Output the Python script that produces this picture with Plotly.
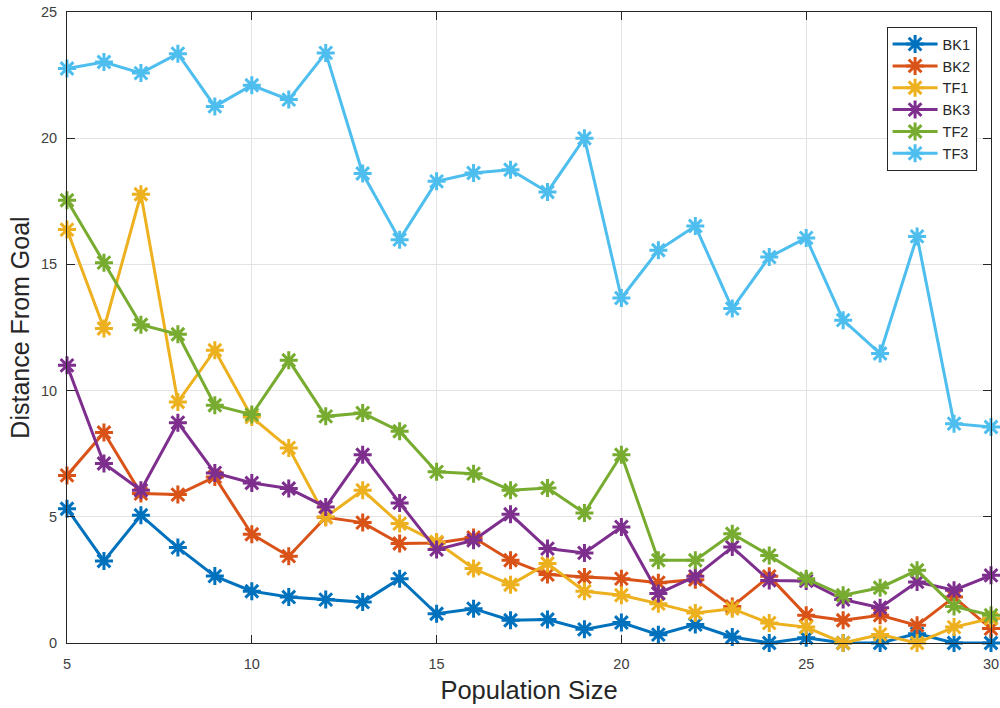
import plotly.graph_objects as go

# Population sizes on the x axis
population = list(range(5, 31))

bk1 = [5.32, 3.25, 5.06, 3.78, 2.65, 2.05, 1.82, 1.72, 1.62, 2.55, 1.16, 1.36, 0.90,
       0.93, 0.54, 0.81, 0.33, 0.73, 0.24, 0.0, 0.21, 0.0, 0.0, 0.37, 0.0, 0.0]
bk2 = [6.64, 8.34, 5.92, 5.88, 6.58, 4.31, 3.44, 4.98, 4.77, 3.94, 3.96, 4.18, 3.28,
       2.71, 2.61, 2.55, 2.39, 2.51, 1.45, 2.64, 1.10, 0.90, 1.10, 0.70, 1.82, 0.57]
tf1 = [16.38, 12.46, 17.78, 9.55, 11.60, 8.95, 7.73, 4.99, 6.05, 4.73, 4.00, 2.95, 2.31,
       3.15, 2.05, 1.89, 1.56, 1.19, 1.36, 0.79, 0.63, 0.0, 0.34, 0.0, 0.63, 0.97]
bk3 = [11.00, 7.11, 6.05, 8.73, 6.74, 6.34, 6.12, 5.39, 7.46, 5.55, 3.70, 4.07, 5.10,
       3.74, 3.57, 4.60, 1.96, 2.64, 3.80, 2.48, 2.46, 1.72, 1.40, 2.42, 2.09, 2.68]
tf2 = [17.54, 15.07, 12.61, 12.23, 9.42, 9.05, 11.20, 8.98, 9.11, 8.39, 6.78, 6.71, 6.05,
       6.14, 5.15, 7.46, 3.28, 3.28, 4.33, 3.47, 2.55, 1.89, 2.19, 2.88, 1.45, 1.10]
tf3 = [22.76, 23.02, 22.58, 23.35, 21.26, 22.10, 21.53, 23.38, 18.60, 15.98, 18.29, 18.62, 18.75,
       17.87, 20.00, 13.67, 15.56, 16.52, 13.25, 15.29, 16.05, 12.79, 11.47, 16.11, 8.69, 8.56]

series_names = ["BK1", "BK2", "TF1", "BK3", "TF2", "TF3"]
series_values = [bk1, bk2, tf1, bk3, tf2, tf3]
series_colors = ["#0072BD", "#D95319", "#EDB120", "#7E2F8E", "#77AC30", "#4DBEEE"]

x_ticks = [5, 10, 15, 20, 25, 30]
y_ticks = [0, 5, 10, 15, 20, 25]

FONT = "Liberation Sans, Arial, sans-serif"

fig = go.Figure()
for name, vals, col in zip(series_names, series_values, series_colors):
    fig.add_trace(go.Scatter(
        x=population, y=vals, name=name, mode="lines+markers",
        line=dict(color=col, width=3),
        marker=dict(symbol="asterisk-open", size=15, color=col,
                    line=dict(color=col, width=3)),
        cliponaxis=False,
    ))

axis_common = dict(
    showline=True, linecolor="#262626", linewidth=1, mirror="ticks",
    ticks="inside", ticklen=8, tickwidth=1, tickcolor="#262626",
    showgrid=True, gridcolor="#e3e3e3", gridwidth=1, zeroline=False,
    ticklabeloverflow="allow", automargin=False,
    tickfont=dict(family=FONT, size=14.5, color="#404040"),
)

fig.update_xaxes(range=[5, 30], tickvals=x_ticks, ticklabelstandoff=8,
                 title=dict(text="Population Size", standoff=9,
                            font=dict(family=FONT, size=25.5, color="#262626")),
                 **axis_common)
fig.update_yaxes(range=[0, 25], tickvals=y_ticks, ticklabelstandoff=6,
                 title=dict(text="Distance From Goal", standoff=4,
                            font=dict(family=FONT, size=25, color="#262626")),
                 **axis_common)

fig.update_layout(
    width=1000, height=708,
    margin=dict(l=67, r=9, t=12, b=65),
    plot_bgcolor="white", paper_bgcolor="white",
    legend=dict(x=0.887, y=0.976, xanchor="left", yanchor="top",
                bgcolor="white", bordercolor="#262626", borderwidth=1,
                font=dict(family=FONT, size=14.5, color="#262626"),
                tracegroupgap=0, itemwidth=45),
    showlegend=True,
)

fig.write_html("out.html")
